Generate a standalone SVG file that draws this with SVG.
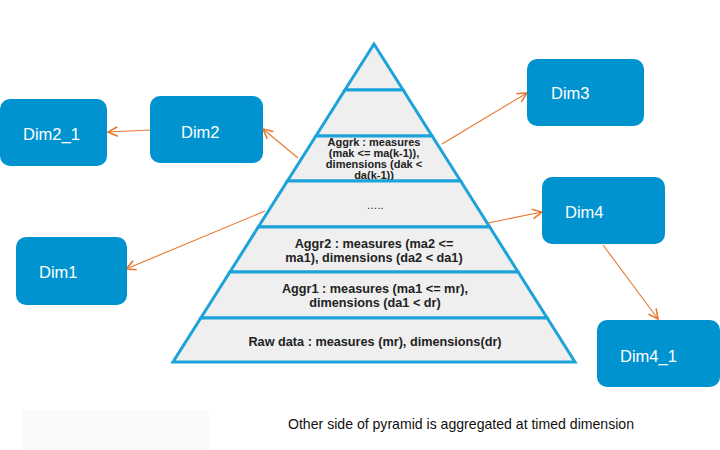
<svg xmlns="http://www.w3.org/2000/svg" width="720" height="450" viewBox="0 0 720 450">
<defs>
<marker id="arr" markerUnits="userSpaceOnUse" markerWidth="12" markerHeight="12" viewBox="0 0 10 10" refX="9" refY="5" orient="auto">
<path d="M1,1 L9,5 L1,9" fill="none" stroke="#e8772e" stroke-width="1.3"/>
</marker>
</defs>
<style>
.box{fill:#0093cf;}
.bt{fill:#ffffff;font-family:"Liberation Sans",Arial,sans-serif;font-size:16.5px;}
.lay{fill:#efefef;stroke:#1ca4da;stroke-width:3;stroke-linejoin:miter;}
.lt{fill:#222222;font-family:"Liberation Sans",Arial,sans-serif;font-weight:bold;font-size:12.7px;text-anchor:middle;}
.lk{fill:#222222;font-family:"Liberation Sans",Arial,sans-serif;font-weight:bold;font-size:11px;text-anchor:middle;}
.cn{fill:none;stroke:#e8772e;stroke-width:1.1;marker-end:url(#arr);}
</style>
<rect width="720" height="450" fill="#ffffff"/>
<rect x="22" y="410" width="187" height="40" fill="#fafafa"/>
<g id="pyramid">
<g id="layer-top"><polygon class="lay" points="374,44 403.1,90 344.9,90"/></g>
<g id="layer-2"><polygon class="lay" points="344.9,90 403.1,90 432.1,136 315.9,136"/></g>
<g id="layer-aggrk"><polygon class="lay" points="315.9,136 432.1,136 460.6,181 287.4,181"/>
<text class="lk" x="374" y="146">Aggrk : measures</text>
<text class="lk" x="374" y="157">(mak &lt;= ma(k-1)),</text>
<text class="lk" x="374" y="168">dimensions (dak &lt;</text>
<text class="lk" x="374" y="179">da(k-1))</text>
</g>
<g id="layer-dots"><polygon class="lay" points="287.4,181 460.6,181 489.7,227 258.3,227"/>
<text class="lk" x="375" y="209" style="font-weight:normal">…..</text>
</g>
<g id="layer-aggr2"><polygon class="lay" points="258.3,227 489.7,227 518.1,272 229.9,272"/>
<text class="lt" x="374" y="248">Aggr2 : measures (ma2 &lt;=</text>
<text class="lt" x="374" y="262">ma1), dimensions (da2 &lt; da1)</text>
</g>
<g id="layer-aggr1"><polygon class="lay" points="229.9,272 518.1,272 547.2,318 200.8,318"/>
<text class="lt" x="375" y="293">Aggr1 : measures (ma1 &lt;= mr),</text>
<text class="lt" x="375" y="307">dimensions (da1 &lt; dr)</text>
</g>
<g id="layer-raw"><polygon class="lay" points="200.8,318 547.2,318 575,362 173,362"/>
<text class="lt" x="375" y="346">Raw data : measures (mr), dimensions(dr)</text>
</g>
</g>
<g id="connectors">
<line class="cn" x1="150" y1="130" x2="108" y2="132"/>
<line class="cn" x1="298" y1="158" x2="263" y2="129"/>
<line class="cn" x1="265" y1="211" x2="126" y2="269"/>
<line class="cn" x1="442" y1="144" x2="527" y2="93"/>
<line class="cn" x1="488" y1="223" x2="542" y2="212"/>
<line class="cn" x1="603" y1="245" x2="658" y2="319"/>
</g>
<g id="dim2_1"><rect class="box" x="0" y="99" width="107" height="67" rx="10"/><text class="bt" x="23" y="140">Dim2_1</text></g>
<g id="dim2"><rect class="box" x="150" y="96" width="113" height="67" rx="10"/><text class="bt" x="181" y="138">Dim2</text></g>
<g id="dim1"><rect class="box" x="16" y="237" width="111" height="68" rx="10"/><text class="bt" x="39" y="278">Dim1</text></g>
<g id="dim3"><rect class="box" x="527" y="59" width="117" height="67" rx="10"/><text class="bt" x="551" y="99">Dim3</text></g>
<g id="dim4"><rect class="box" x="542" y="177" width="123" height="67" rx="10"/><text class="bt" x="565" y="218">Dim4</text></g>
<g id="dim4_1"><rect class="box" x="597" y="320" width="123" height="67" rx="10"/><text class="bt" x="620" y="362">Dim4_1</text></g>
<text x="288" y="429" font-family="'Liberation Sans',Arial,sans-serif" font-size="14.5" fill="#111111" textLength="346" lengthAdjust="spacingAndGlyphs">Other side of pyramid is aggregated at timed dimension</text>
</svg>
